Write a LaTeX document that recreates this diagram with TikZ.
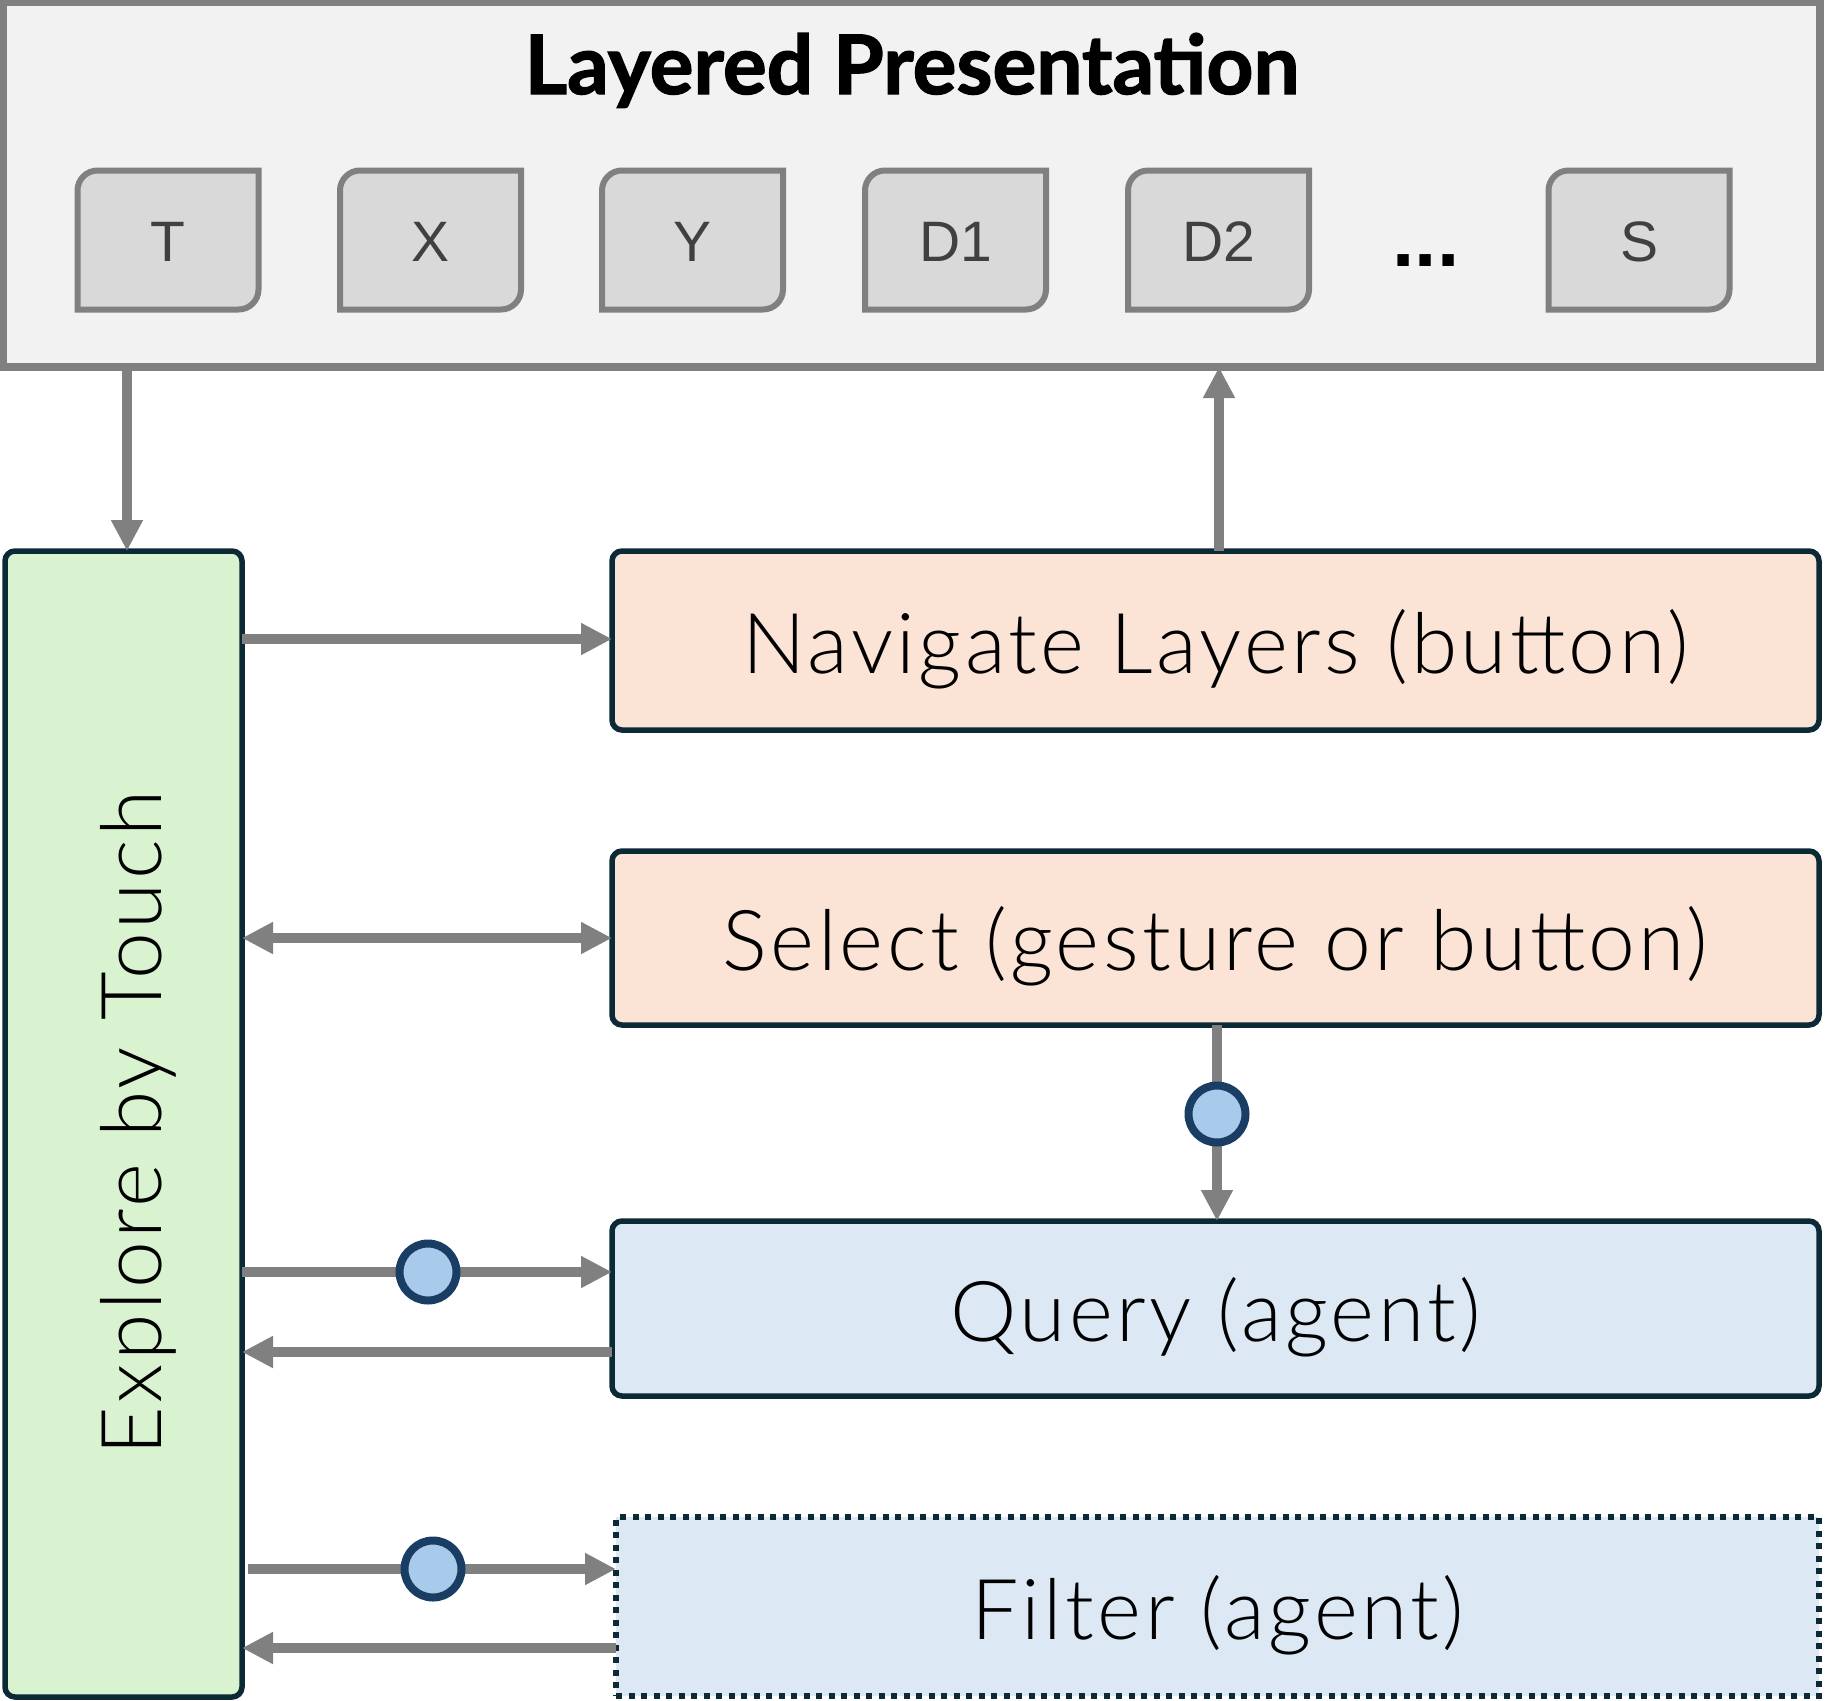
\documentclass[tikz,border=0pt]{standalone}
\usepackage{fontspec}
\setmainfont{Lato}
\newfontfamily\lightfont{Lato Light}[LetterSpace=4]
\newfontfamily\titlefont{Lato Bold}[FakeBold=1.6]
\newfontfamily\tabfont{Liberation Sans}
\usetikzlibrary{arrows.meta,calc}
\definecolor{topfill}{HTML}{F2F2F2}
\definecolor{arrowgray}{HTML}{808080}
\definecolor{tabfill}{HTML}{D9D9D9}
\definecolor{tabtext}{HTML}{404040}
\definecolor{darkb}{HTML}{0C2A36}
\definecolor{greenfill}{HTML}{D9F2D0}
\definecolor{peach}{HTML}{FBE3D6}
\definecolor{bluefill}{HTML}{DCE9F5}
\definecolor{dotfill}{HTML}{A9CBEB}
\definecolor{dotdraw}{HTML}{1A3D64}
\tikzset{
  topbox/.style={draw=arrowgray, fill=topfill, line width=8pt, rectangle, inner sep=0pt, outer sep=0pt},
  tabnode/.style={rectangle, inner sep=0pt, outer sep=0pt, minimum width=181pt, minimum height=139pt,
    font=\tabfont\fontsize{57}{60}\selectfont, text=tabtext},
  tabline/.style={draw=arrowgray, fill=tabfill, line width=6pt},
  boxtext/.style={font=\lightfont\fontsize{84}{100}\selectfont, text height=76pt, text depth=11pt},
  mainbox/.style={draw=darkb, line width=5.5pt, rounded corners=10pt, rectangle, inner sep=0pt, outer sep=0pt, boxtext},
  dotbox/.style={draw=darkb, line width=6pt, dash pattern=on 6pt off 6.5pt, rectangle, inner sep=0pt, outer sep=0pt, boxtext},
  conn/.style={draw=arrowgray, line width=10.5pt, -{Triangle[length=31pt,width=30pt]}},
  conntwo/.style={draw=arrowgray, line width=10.5pt, {Triangle[length=31pt,width=30pt]}-{Triangle[length=31pt,width=30pt]}},
  dot/.style={circle, draw=dotdraw, fill=dotfill, line width=8pt, minimum size=57pt, inner sep=0pt}
}
\newcommand\tabshape[1]{%
  \filldraw[tabline] (#1.south west) -- ([yshift=-20pt]#1.north west)
    arc[start angle=180, end angle=90, radius=20pt] -- (#1.north east)
    -- ([yshift=20pt]#1.south east)
    arc[start angle=0, end angle=-90, radius=20pt] -- cycle;%
}
\begin{document}
\begin{tikzpicture}[x=1pt, y=-1pt]
\useasboundingbox (0,0) rectangle (1825,1700);
\fill[white] (0,0) rectangle (1825,1700);

% top container
\node[topbox, minimum width=1817pt, minimum height=365pt] (top) at (911.5,184.5) {};
\node[anchor=base, font=\titlefont\fontsize{82}{90}\selectfont] (title) at (912,94) {Layered Presentation};

% tabs
\node[tabnode] (tT) at (168,240) {};
\node[tabnode] (tX) at (430.5,240) {};
\node[tabnode] (tY) at (692.5,240) {};
\node[tabnode] (tD1) at (955.5,240) {};
\node[tabnode] (tD2) at (1218.5,240) {};
\node[tabnode] (tS) at (1639,240) {};
\tabshape{tT}\tabshape{tX}\tabshape{tY}\tabshape{tD1}\tabshape{tD2}\tabshape{tS}
\node[tabnode] at ([yshift=-2pt]tT) {T};
\node[tabnode] at ([yshift=-2pt]tX) {X};
\node[tabnode] at ([yshift=-2pt]tY) {Y};
\node[tabnode] at ([yshift=-2pt]tD1) {D1};
\node[tabnode] at ([yshift=-2pt]tD2) {D2};
\node[tabnode] at ([yshift=-2pt]tS) {S};
\node[anchor=base, font=\tabfont\bfseries\fontsize{80}{90}\selectfont] (dots) at (1426,266) {...};

% left box
\node[mainbox, fill=greenfill, minimum width=237pt, minimum height=1146pt] (ex) at (123.5,1124) {};
\node[rotate=90, boxtext] (extext) at (128.5,1123) {Explore by Touch};

% right boxes
\node[mainbox, fill=peach, minimum width=1207pt, minimum height=179pt] (nav) at (1215.5,640.5) {Navigate Layers (button)};
\node[mainbox, fill=peach, minimum width=1207pt, minimum height=174pt] (sel) at (1215.5,938) {Select (gesture or button)};
\node[mainbox, fill=bluefill, minimum width=1207pt, minimum height=175pt] (qry) at (1215.5,1308.5) {Query (agent)};
\node[dotbox, fill=bluefill, minimum width=1203pt, minimum height=179pt] (flt) at (1217.5,1606.5) {Filter (agent)};

% helper coordinates
\coordinate (ax) at (127,0);
\coordinate (ux) at (1219,0);
\coordinate (dx) at (1217,0);
\coordinate (r1) at (0,639);
\coordinate (r3) at (0,1272);
\coordinate (r4) at (0,1352);
\coordinate (r5) at (0,1569);
\coordinate (r6) at (0,1648);

% connectors
\draw[conn] (top.south -| ax) -- (ex.north -| ax);
\draw[conn] (nav.north -| ux) -- (top.south -| ux);
\draw[conn] (ex.east |- r1) -- (nav.west |- r1);
\draw[conntwo] (ex.east |- sel.west) -- (sel.west);
\draw[conn] (sel.south -| dx) -- (qry.north -| dx);
\draw[conn] (ex.east |- r3) -- (qry.west |- r3);
\draw[conn] (qry.west |- r4) -- (ex.east |- r4);
\draw[conn] ($(ex.east |- r5)+(6,0)$) -- (flt.west |- r5);
\draw[conn] (flt.west |- r6) -- (ex.east |- r6);

% circles
\node[dot] (c1) at (1217,1114) {};
\node[dot] (c2) at (428,1272) {};
\node[dot] (c3) at (433,1569) {};
\end{tikzpicture}
\end{document}
